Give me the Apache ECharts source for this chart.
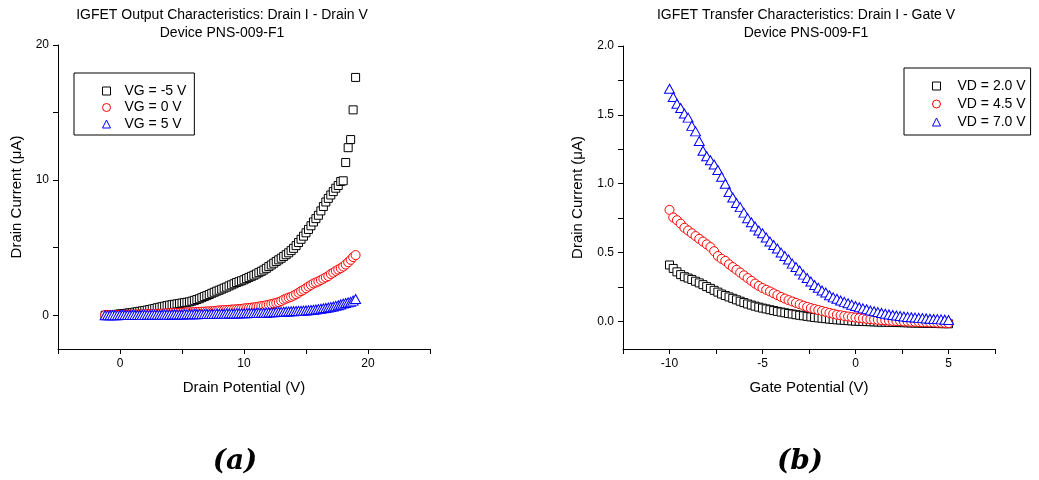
<!DOCTYPE html>
<html>
<head>
<meta charset="utf-8">
<script src="https://cdn.jsdelivr.net/npm/echarts@6/dist/echarts.min.js"></script>
<style>
  html, body { margin: 0; padding: 0; background: #fff; }
  #chart { width: 1039px; height: 480px; }
</style>
</head>
<body>
<div id="chart"></div>
<script>
// (a) output characteristics: drain current (uA) vs drain potential (V)
const drainV = [
  -1.2, -1.0, -0.8, -0.6, -0.4, -0.2, 0.0, 0.2, 0.4, 0.6, 0.8, 1.0, 1.2, 1.4, 1.6, 1.8, 2.0,
  2.2, 2.4, 2.6, 2.8, 3.0, 3.2, 3.4, 3.6, 3.8, 4.0,
  4.2, 4.4, 4.6, 4.8, 5.0, 5.2, 5.4, 5.6, 5.8, 6.0,
  6.2, 6.4, 6.6, 6.8, 7.0, 7.2, 7.4, 7.6, 7.8, 8.0,
  8.2, 8.4, 8.6, 8.8, 9.0, 9.2, 9.4, 9.6, 9.8, 10.0,
  10.2, 10.4, 10.6, 10.8, 11.0, 11.2, 11.4, 11.6, 11.8, 12.0,
  12.2, 12.4, 12.6, 12.8, 13.0, 13.2, 13.4, 13.6, 13.8, 14.0,
  14.2, 14.4, 14.6, 14.8, 15.0, 15.2, 15.4, 15.6, 15.8, 16.0,
  16.2, 16.4, 16.6, 16.8, 17.0, 17.2, 17.4, 17.6, 17.8, 18.0,
  18.2, 18.4, 18.6, 18.8, 19.0
];
const idVGm5 = [
  0.00, 0.01, 0.02, 0.04, 0.05, 0.07, 0.09, 0.11, 0.13, 0.15, 0.18, 0.20, 0.23, 0.26, 0.29, 0.32, 0.35,
  0.38, 0.42, 0.46, 0.50, 0.55, 0.59, 0.63, 0.67, 0.71, 0.75,
  0.78, 0.81, 0.84, 0.87, 0.90, 0.93, 0.96, 0.99, 1.04, 1.10,
  1.16, 1.22, 1.30, 1.38, 1.45, 1.53, 1.62, 1.70, 1.78, 1.85,
  1.93, 2.01, 2.08, 2.17, 2.25, 2.33, 2.42, 2.48, 2.55, 2.62,
  2.71, 2.80, 2.88, 2.96, 3.05, 3.15, 3.25, 3.35, 3.47, 3.60,
  3.72, 3.85, 3.98, 4.10, 4.22, 4.35, 4.48, 4.62, 4.78, 4.95,
  5.15, 5.38, 5.62, 5.85, 6.10, 6.35, 6.62, 6.90, 7.15, 7.40,
  7.72, 8.05, 8.38, 8.65, 8.90, 9.15, 9.40, 9.60, 9.90, 9.95,
  11.3, 12.4, 13.0, 15.2, 17.6
];
const idVG0 = [
  0.00, 0.005, 0.01, 0.015, 0.02, 0.025, 0.03, 0.033, 0.036, 0.04, 0.043, 0.046, 0.05, 0.054, 0.058, 0.062, 0.066,
  0.07, 0.075, 0.08, 0.09, 0.10, 0.11, 0.12, 0.13, 0.14, 0.15,
  0.16, 0.165, 0.17, 0.18, 0.19, 0.20, 0.21, 0.215, 0.22, 0.23,
  0.24, 0.25, 0.26, 0.27, 0.28, 0.29, 0.30, 0.31, 0.33, 0.36,
  0.37, 0.38, 0.39, 0.40, 0.42, 0.43, 0.44, 0.46, 0.47, 0.50,
  0.52, 0.54, 0.56, 0.58, 0.61, 0.64, 0.67, 0.70, 0.74, 0.78,
  0.82, 0.87, 0.92, 0.97, 1.05, 1.15, 1.23, 1.30, 1.36, 1.45,
  1.55, 1.66, 1.78, 1.88, 2.00, 2.12, 2.24, 2.35, 2.42, 2.50,
  2.60, 2.70, 2.80, 2.90, 3.05, 3.15, 3.28, 3.38, 3.48, 3.60,
  3.75, 3.92, 4.10, 4.30, 4.45
];
const idVG5 = [
  0.00, 0.00, 0.00, 0.005, 0.005, 0.005, 0.01, 0.01, 0.01, 0.012, 0.014, 0.016, 0.018, 0.02, 0.022, 0.024, 0.026,
  0.028, 0.03, 0.032, 0.034, 0.036, 0.038, 0.04, 0.042, 0.044, 0.046,
  0.048, 0.05, 0.053, 0.056, 0.059, 0.062, 0.065, 0.068, 0.071, 0.074,
  0.077, 0.08, 0.083, 0.086, 0.09, 0.093, 0.096, 0.10, 0.103, 0.106,
  0.11, 0.114, 0.118, 0.122, 0.126, 0.13, 0.134, 0.138, 0.142, 0.146,
  0.15, 0.155, 0.16, 0.165, 0.17, 0.175, 0.18, 0.185, 0.19, 0.20,
  0.21, 0.22, 0.23, 0.24, 0.25, 0.26, 0.27, 0.28, 0.29, 0.30,
  0.31, 0.32, 0.33, 0.34, 0.355, 0.37, 0.385, 0.40, 0.42, 0.45,
  0.48, 0.51, 0.54, 0.57, 0.60, 0.64, 0.69, 0.74, 0.80, 0.86,
  0.90, 0.95, 0.99, 1.08, 1.20
];

// (b) transfer characteristics: drain current (uA) vs gate potential (V)
const gateV = [
  -10.0, -9.8, -9.6, -9.4, -9.2, -9.0, -8.8, -8.6, -8.4, -8.2,
  -8.0, -7.8, -7.6, -7.4, -7.2, -7.0, -6.8, -6.6, -6.4, -6.2,
  -6.0, -5.8, -5.6, -5.4, -5.2, -5.0, -4.8, -4.6, -4.4, -4.2,
  -4.0, -3.8, -3.6, -3.4, -3.2, -3.0, -2.8, -2.6, -2.4, -2.2,
  -2.0, -1.8, -1.6, -1.4, -1.2, -1.0, -0.8, -0.6, -0.4, -0.2,
  0.0, 0.2, 0.4, 0.6, 0.8, 1.0, 1.2, 1.4, 1.6, 1.8,
  2.0, 2.2, 2.4, 2.6, 2.8, 3.0, 3.2, 3.4, 3.6, 3.8,
  4.0, 4.2, 4.4, 4.6, 4.8, 5.0
];
const idVD20 = [
  0.41, 0.385, 0.36, 0.34, 0.325, 0.315, 0.305, 0.292, 0.28, 0.267,
  0.253, 0.24, 0.226, 0.213, 0.199, 0.188, 0.178, 0.168, 0.157, 0.147,
  0.137, 0.127, 0.119, 0.111, 0.104, 0.097, 0.091, 0.085, 0.079, 0.073,
  0.068, 0.063, 0.058, 0.054, 0.049, 0.045, 0.041, 0.037, 0.033, 0.029,
  0.026, 0.023, 0.020, 0.017, 0.014, 0.012, 0.010, 0.008, 0.006, 0.004,
  0.002, 0.001, 0.000, -0.001, -0.002, -0.003, -0.004, -0.005, -0.005, -0.006,
  -0.007, -0.008, -0.008, -0.009, -0.010, -0.011, -0.011, -0.012, -0.013, -0.013,
  -0.014, -0.015, -0.015, -0.016, -0.016, -0.017
];
const idVD45 = [
  0.81, 0.755, 0.735, 0.71, 0.68, 0.66, 0.64, 0.62, 0.60, 0.58,
  0.56, 0.54, 0.51, 0.475, 0.455, 0.44, 0.415, 0.395, 0.375, 0.355,
  0.335, 0.315, 0.295, 0.275, 0.258, 0.243, 0.23, 0.218, 0.204, 0.191,
  0.178, 0.166, 0.155, 0.145, 0.135, 0.125, 0.115, 0.106, 0.097, 0.09,
  0.083, 0.076, 0.069, 0.062, 0.056, 0.049, 0.045, 0.040, 0.036, 0.032,
  0.028, 0.025, 0.022, 0.019, 0.017, 0.014, 0.012, 0.010, 0.008, 0.006,
  0.004, 0.003, 0.002, 0.000, -0.001, -0.002, -0.003, -0.004, -0.005, -0.006,
  -0.007, -0.008, -0.009, -0.010, -0.011, -0.012
];
const idVD70 = [
  1.69, 1.63, 1.58, 1.55, 1.51, 1.48, 1.42, 1.38, 1.31, 1.24,
  1.20, 1.17, 1.14, 1.10, 1.05, 1.00, 0.94, 0.90, 0.86, 0.83,
  0.79, 0.75, 0.72, 0.69, 0.66, 0.64, 0.61, 0.58, 0.555, 0.53,
  0.50, 0.475, 0.45, 0.42, 0.395, 0.37, 0.34, 0.315, 0.29, 0.265,
  0.245, 0.225, 0.21, 0.19, 0.175, 0.165, 0.152, 0.142, 0.132, 0.122,
  0.112, 0.103, 0.095, 0.088, 0.080, 0.074, 0.068, 0.062, 0.056, 0.051,
  0.047, 0.043, 0.039, 0.036, 0.033, 0.030, 0.028, 0.026, 0.024, 0.022,
  0.020, 0.018, 0.017, 0.015, 0.013, 0.011
];

const leftYTicks = [0, 5, 10, 15, 20];
const leftYLabels = [0, 10, 20];
const leftXTicks = [-5, 0, 5, 10, 15, 20, 25];
const leftXLabels = [0, 10, 20];
const rightYTicks = [0, 0.25, 0.5, 0.75, 1.0, 1.25, 1.5, 1.75, 2.0];
const rightYLabels = [0, 0.5, 1.0, 1.5, 2.0];
const rightXTicks = [-12.5, -10, -7.5, -5, -2.5, 0, 2.5, 5, 7.5];
const rightXLabels = [-10, -5, 0, 5];

const FONT = '"Liberation Sans", Arial, sans-serif';

const zip = (xs, ys) => xs.map((x, i) => [x, ys[i]]);

const axisBase = {
  axisLine: { show: true, onZero: false, lineStyle: { color: '#000', width: 1 } },
  splitLine: { show: false },
  nameTextStyle: { color: '#000', fontSize: 15, fontFamily: FONT },
};

const makeAxis = (gridIndex, min, max, ticks, labels, name, gap, fmt) => Object.assign({}, axisBase, {
  type: 'value', gridIndex, min, max,
  name, nameLocation: 'middle', nameGap: gap,
  axisTick: { show: true, inside: false, length: 5, customValues: ticks, lineStyle: { color: '#000' } },
  axisLabel: { customValues: labels, color: '#000', fontSize: 12, fontFamily: FONT, margin: 9, formatter: fmt },
});

// hollow markers: white fill, thin coloured outline
const scatter = (name, xi, data, symbol, size, color) => ({
  name, type: 'scatter', xAxisIndex: xi, yAxisIndex: xi,
  data, symbol, symbolSize: size,
  itemStyle: { color: '#fff', borderColor: color, borderWidth: 1, opacity: 1 },
  emphasis: { disabled: true },
});

const legendBase = {
  orient: 'vertical',
  itemWidth: 8, itemHeight: 8,
  borderColor: '#000', borderWidth: 1, backgroundColor: '#fff',
  itemStyle: { borderWidth: 1 },
  selectedMode: false,
};

const chart = echarts.init(document.getElementById('chart'));

const option = {
  animation: false,
  backgroundColor: '#fff',
  textStyle: { fontFamily: FONT },
  grid: [
    { left: 58, top: 45, width: 372, height: 304 },
    { left: 623, top: 46, width: 372, height: 303 },
  ],
  xAxis: [
    makeAxis(0, -5, 25, leftXTicks, leftXLabels, 'Drain Potential (V)', 31, v => String(v)),
    makeAxis(1, -12.5, 7.5, rightXTicks, rightXLabels, 'Gate Potential (V)', 31, v => String(v)),
  ],
  yAxis: [
    makeAxis(0, -2.5, 20, leftYTicks, leftYLabels, 'Drain Current (\u03bcA)', 34, v => String(v)),
    makeAxis(1, -0.2, 2.0, rightYTicks, rightYLabels, 'Drain Current (\u03bcA)', 38, v => v.toFixed(1)),
  ],
  legend: [
    Object.assign({}, legendBase, {
      left: 74, top: 73,
      data: ['VG = -5 V', 'VG = 0 V', 'VG = 5 V'],
      itemGap: 0.5,
      padding: [10, 8, 3, 28],
      textStyle: { color: '#000', fontSize: 14, lineHeight: 16, fontFamily: FONT, padding: [0, 0, 0, 9] },
    }),
    Object.assign({}, legendBase, {
      left: 904, top: 68,
      data: ['VD = 2.0 V', 'VD = 4.5 V', 'VD = 7.0 V'],
      itemGap: 2,
      padding: [10, 5, 5, 28],
      textStyle: { color: '#000', fontSize: 14, lineHeight: 16, fontFamily: FONT, padding: [0, 0, 0, 12] },
    }),
  ],
  graphic: [
    { type: 'text', x: 222, y: 15, style: { text: 'IGFET Output Characteristics: Drain I - Drain V', fill: '#000', font: '14px ' + FONT, align: 'center', verticalAlign: 'middle' } },
    { type: 'text', x: 222, y: 33, style: { text: 'Device PNS-009-F1', fill: '#000', font: '14px ' + FONT, align: 'center', verticalAlign: 'middle' } },
    { type: 'text', x: 806, y: 15, style: { text: 'IGFET Transfer Characteristics: Drain I - Gate V', fill: '#000', font: '14px ' + FONT, align: 'center', verticalAlign: 'middle' } },
    { type: 'text', x: 806, y: 33, style: { text: 'Device PNS-009-F1', fill: '#000', font: '14px ' + FONT, align: 'center', verticalAlign: 'middle' } },
    { type: 'text', x: 235, y: 462, style: { text: '(a)', fill: '#000', font: 'italic bold 28px "DejaVu Serif", serif', align: 'center', verticalAlign: 'middle' } },
    { type: 'text', x: 800, y: 462, style: { text: '(b)', fill: '#000', font: 'italic bold 28px "DejaVu Serif", serif', align: 'center', verticalAlign: 'middle' } },
  ],
  series: [
    scatter('VG = -5 V', 0, zip(drainV, idVGm5), 'rect', 8, '#000'),
    scatter('VG = 0 V', 0, zip(drainV, idVG0), 'circle', 9, '#ff0000'),
    scatter('VG = 5 V', 0, zip(drainV, idVG5), 'triangle', [10, 9], '#0000ff'),
    scatter('VD = 2.0 V', 1, zip(gateV, idVD20), 'rect', 8, '#000'),
    scatter('VD = 4.5 V', 1, zip(gateV, idVD45), 'circle', 9, '#ff0000'),
    scatter('VD = 7.0 V', 1, zip(gateV, idVD70), 'triangle', [10, 9], '#0000ff'),
  ],
};

chart.setOption(option);
</script>
</body>
</html>
